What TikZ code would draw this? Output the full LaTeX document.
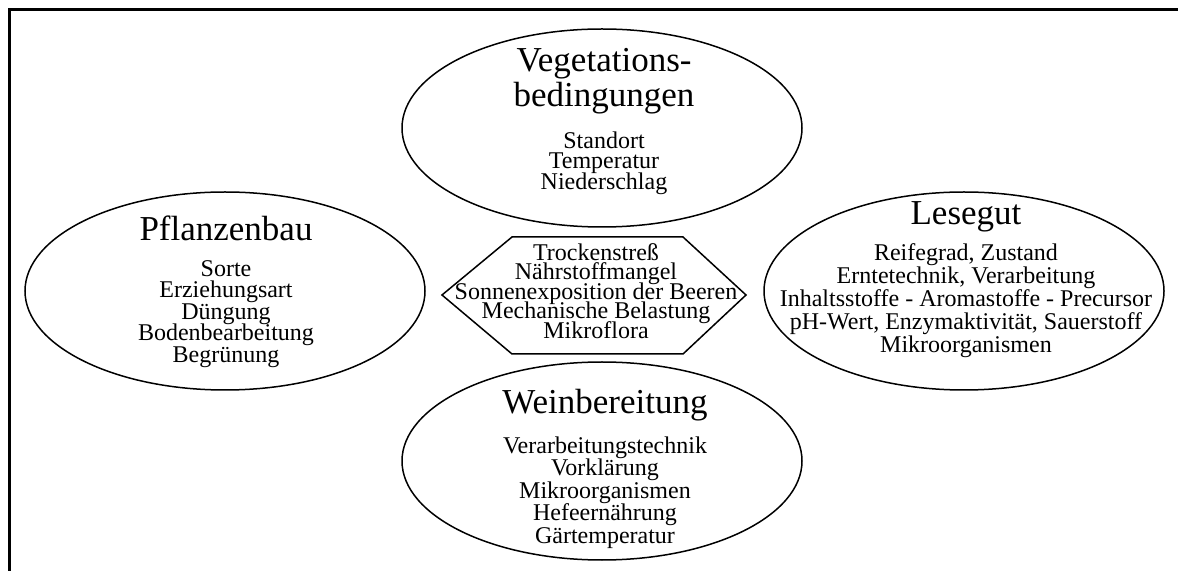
\documentclass[tikz,border=0pt]{standalone}
\usepackage{fontspec}
\setmainfont{Liberation Serif}
\usetikzlibrary{shapes.geometric}
\setlength{\lineskiplimit}{-20pt}

\begin{document}
\begin{tikzpicture}[x=0.5pt,y=-0.5pt,
  blob/.style={ellipse,draw,line width=0.75pt,minimum width=200pt,minimum height=99pt,inner sep=0pt},
  head/.style={anchor=north,align=center,inner sep=0pt,
    font=\fontsize{17.5}{17.5}\selectfont},
  items/.style={anchor=north,align=center,inner sep=0pt,
    font=\fontsize{12}{#1}\selectfont}]
\useasboundingbox (0,0) rectangle (1178,571);
% frame
\draw[line width=1.5pt] (9,571) -- (9,10) -- (1178,10);

% Vegetationsbedingungen
\node[blob] (veg) at (602,128) {};
\node[head] (vegT) at (604,48) {Vegetations-\\bedingungen};
\node[items=10.25pt] (vegL) at (604,131) {Standort\\Temperatur\\Niederschlag};

% Pflanzenbau
\node[blob] (pfl) at (225,291) {};
\node[head] (pflT) at (226,215) {Pflanzenbau};
\node[items=10.75pt] (pflL) at (226,260) {Sorte\\Erziehungsart\\Düngung\\Bodenbearbeitung\\Begrünung};

% Lesegut
\node[blob] (les) at (964,291) {};
\node[head] (lesT) at (966,201) {Lesegut};
\node[items=11.5pt] (lesL) at (966,243) {Reifegrad, Zustand\\Erntetechnik, Verarbeitung\\Inhaltsstoffe - Aromastoffe - Precursor\\pH-Wert, Enzymaktivität, Sauerstoff\\Mikroorganismen};

% Weinbereitung
\node[blob] (wein) at (602,461) {};
\node[head] (weinT) at (605,389) {Weinbereitung};
\node[items=11.25pt] (weinL) at (605,436) {Verarbeitungstechnik\\Vorklärung\\Mikroorganismen\\Hefeernährung\\Gärtemperatur};

% Mitte
\draw[line width=0.75pt] (442,295) -- (512,237) -- (683,237) -- (746,295)
  -- (683,354) -- (512,354) -- cycle;
\node[items=9.75pt,anchor=center] (stress) at (596,291) {Trockenstreß\\Nährstoffmangel\\Sonnenexposition der Beeren\\Mechanische Belastung\\Mikroflora};
\end{tikzpicture}
\end{document}
